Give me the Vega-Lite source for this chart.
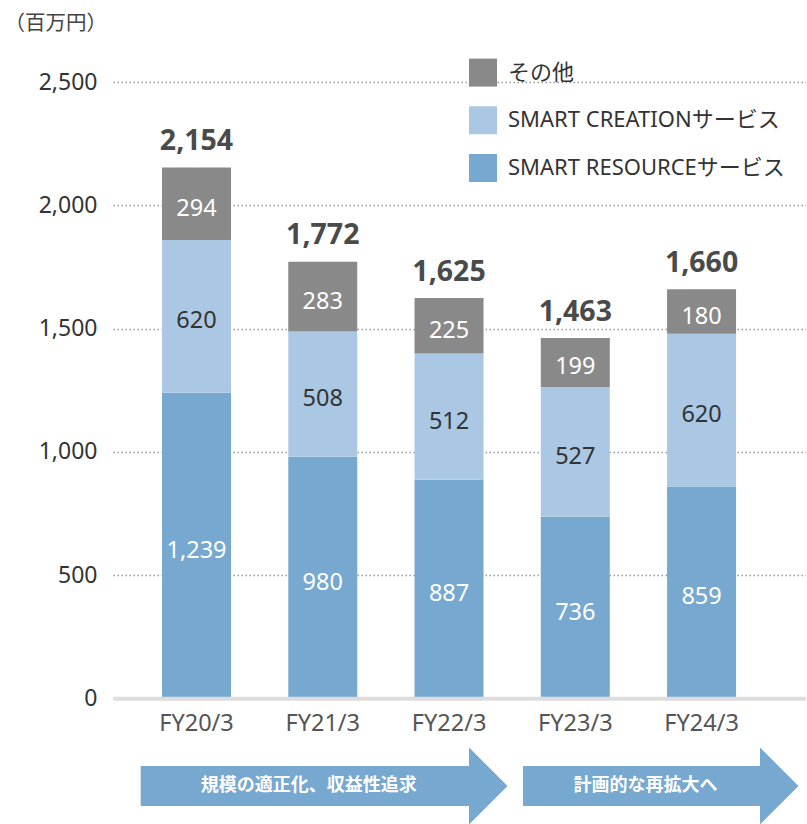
{
  "$schema": "https://vega.github.io/schema/vega-lite/v6.json",
  "padding": {"left": 4, "top": 13, "right": 0, "bottom": 0},
  "background": "white",
  "config": {"view": {"stroke": null}, "font": "Noto Sans, Noto Sans CJK JP"},
  "datasets": {
    "segments": [
      {"fy": "FY20/3", "series": "SMART RESOURCEサービス", "value": 1239, "rank": 1},
      {"fy": "FY20/3", "series": "SMART CREATIONサービス", "value": 620, "rank": 2},
      {"fy": "FY20/3", "series": "その他", "value": 294, "rank": 3},
      {"fy": "FY21/3", "series": "SMART RESOURCEサービス", "value": 980, "rank": 1},
      {"fy": "FY21/3", "series": "SMART CREATIONサービス", "value": 508, "rank": 2},
      {"fy": "FY21/3", "series": "その他", "value": 283, "rank": 3},
      {"fy": "FY22/3", "series": "SMART RESOURCEサービス", "value": 887, "rank": 1},
      {"fy": "FY22/3", "series": "SMART CREATIONサービス", "value": 512, "rank": 2},
      {"fy": "FY22/3", "series": "その他", "value": 225, "rank": 3},
      {"fy": "FY23/3", "series": "SMART RESOURCEサービス", "value": 736, "rank": 1},
      {"fy": "FY23/3", "series": "SMART CREATIONサービス", "value": 527, "rank": 2},
      {"fy": "FY23/3", "series": "その他", "value": 199, "rank": 3},
      {"fy": "FY24/3", "series": "SMART RESOURCEサービス", "value": 859, "rank": 1},
      {"fy": "FY24/3", "series": "SMART CREATIONサービス", "value": 620, "rank": 2},
      {"fy": "FY24/3", "series": "その他", "value": 180, "rank": 3}
    ],
    "totals": [
      {"fy": "FY20/3", "total": 2154},
      {"fy": "FY21/3", "total": 1772},
      {"fy": "FY22/3", "total": 1625},
      {"fy": "FY23/3", "total": 1463},
      {"fy": "FY24/3", "total": 1660}
    ],
    "arrows": [
      {"label": "規模の適正化、収益性追求", "start": 19.558, "base": 22.158},
      {"label": "計画的な再拡大へ", "start": 22.586, "base": 24.463}
    ]
  },
  "bounds": "flush",
  "spacing": 67,
  "vconcat": [
    {
      "width": 693,
      "height": 616.3,
      "data": {"name": "segments"},
      "layer": [
        {
          "transform": [
            {"stack": "value", "groupby": ["fy"], "sort": [{"field": "rank", "order": "ascending"}], "as": ["v0", "v1"]}
          ],
          "mark": {"type": "bar"},
          "encoding": {
            "x": {
              "field": "fy", "type": "nominal", "sort": null,
              "scale": {"paddingInner": 0.4535, "paddingOuter": 0.471, "align": 0.412},
              "axis": {
                "title": null, "labelAngle": 0, "labelFontSize": 23.5, "labelColor": "#555555",
                "labelPadding": 13, "ticks": false, "domainColor": "#dddddd", "domainWidth": 4,
                "grid": false, "zindex": 1
              }
            },
            "y": {
              "field": "v0", "type": "quantitative",
              "scale": {"domain": [0, 2500], "nice": false},
              "axis": {
                "title": "（百万円）", "titleAngle": 0, "titleAlign": "left", "titleBaseline": "top",
                "titleX": -109, "titleY": -68.7, "titleFontSize": 20.5, "titleFontWeight": "normal",
                "titleColor": "#444444", "titleFont": "Noto Sans CJK JP",
                "values": [0, 500, 1000, 1500, 2000, 2500], "format": ",.0f",
                "labelFontSize": 23, "labelColor": "#333333", "labelPadding": 16,
                "ticks": false, "domain": false,
                "grid": true, "gridColor": "#999999", "gridDash": [1.5, 2.5], "gridWidth": 1.5
              }
            },
            "y2": {"field": "v1"},
            "color": {
              "field": "series", "type": "nominal",
              "scale": {
                "domain": ["その他", "SMART CREATIONサービス", "SMART RESOURCEサービス"],
                "range": ["#898989", "#aac7e3", "#77a8d0"]
              },
              "legend": {
                "orient": "none", "legendX": 356, "legendY": -23.4, "title": null,
                "symbolType": "square", "symbolSize": 784, "symbolStrokeWidth": 0, "symbolOpacity": 1,
                "labelFontSize": 22, "labelColor": "#333333", "labelOffset": 11,
                "rowPadding": 19.7, "labelLimit": 400
              }
            }
          }
        },
        {
          "transform": [
            {"stack": "value", "groupby": ["fy"], "sort": [{"field": "rank", "order": "ascending"}], "as": ["v0", "v1"]},
            {"fold": ["v0", "v1"], "as": ["edge", "pos"]},
            {"aggregate": [{"op": "mean", "field": "pos", "as": "mid"}], "groupby": ["fy", "series", "value"]}
          ],
          "mark": {"type": "text", "fontSize": 23.5, "baseline": "middle", "dy": 5},
          "encoding": {
            "x": {"field": "fy", "type": "nominal", "sort": null},
            "y": {"field": "mid", "type": "quantitative"},
            "text": {"field": "value", "type": "quantitative", "format": ","},
            "fill": {
              "condition": {"test": "datum.series === 'SMART CREATIONサービス'", "value": "#333333"},
              "value": "#ffffff"
            }
          }
        },
        {
          "data": {"name": "totals"},
          "mark": {"type": "text", "fontSize": 28.5, "fontWeight": "bold", "baseline": "alphabetic", "dy": -17, "color": "#4a4a4a"},
          "encoding": {
            "x": {"field": "fy", "type": "nominal", "sort": null},
            "y": {"field": "total", "type": "quantitative"},
            "text": {"field": "total", "type": "quantitative", "format": ","}
          }
        }
      ]
    },
    {
      "width": 693,
      "height": 40,
      "data": {"name": "arrows"},
      "layer": [
        {
          "mark": {"type": "rect", "color": "#77a8d0"},
          "encoding": {
            "x": {"field": "start", "type": "quantitative", "scale": {"domain": [19.3387, 24.8273], "nice": false, "zero": false}, "axis": null},
            "x2": {"field": "base"}
          }
        },
        {
          "mark": {"type": "point", "shape": "M 0 -1 L 1 0 L 0 1 Z", "size": 5929, "filled": true, "color": "#77a8d0", "opacity": 1, "strokeWidth": 0},
          "encoding": {
            "x": {"field": "base", "type": "quantitative"}
          }
        },
        {
          "transform": [
            {"fold": ["start", "base"], "as": ["k", "pos"]},
            {"aggregate": [{"op": "mean", "field": "pos", "as": "mid"}], "groupby": ["label"]}
          ],
          "mark": {"type": "text", "color": "#ffffff", "fontSize": 18, "fontWeight": "bold", "font": "Noto Sans CJK JP", "dx": 4, "baseline": "middle"},
          "encoding": {
            "x": {"field": "mid", "type": "quantitative"},
            "text": {"field": "label"}
          }
        }
      ]
    }
  ]
}
